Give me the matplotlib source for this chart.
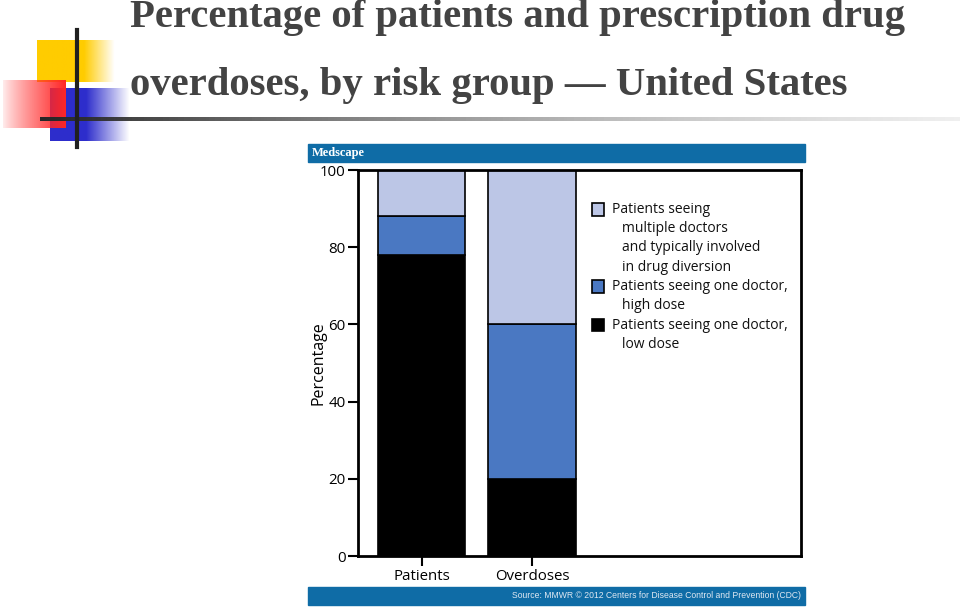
import numpy as np
import matplotlib.pyplot as plt
from matplotlib.patches import Rectangle

groups = ['Patients', 'Overdoses']
low_dose = [78, 20]
high_dose = [10, 40]
multiple_doctors = [12, 40]
legend_labels = [
    ['Patients seeing', 'multiple doctors', 'and typically involved', 'in drug diversion'],
    ['Patients seeing one doctor,', 'high dose'],
    ['Patients seeing one doctor,', 'low dose'],
]
colors = ['#bcc6e6', '#4a78c2', '#000000']
title_lines = ['Percentage of patients and prescription drug',
               'overdoses, by risk group \u2014 United States']

W, H = 960, 607
fig = plt.figure(figsize=(W / 100, H / 100), dpi=100)

# background decoration in pixel coords
bg = fig.add_axes([0, 0, 1, 1])
bg.set_xlim(0, W)
bg.set_ylim(H, 0)
bg.axis('off')


def grad_rect(x0, y0, x1, y1, rgb, fade_from=0.55):
    n = 100
    a = np.ones(n)
    k = int(n * fade_from)
    a[k:] = np.linspace(1, 0, n - k)
    img = np.zeros((1, n, 4))
    img[0, :, :3] = rgb
    img[0, :, 3] = a
    bg.imshow(img, extent=(x0, x1, y1, y0), aspect='auto', zorder=1)


grad_rect(37, 40, 115, 82, (1.0, 0.80, 0.0), 0.6)
grad_rect(50, 88, 130, 141, (0.18, 0.18, 0.80), 0.45)
# red block fades towards the left
n = 100
img = np.zeros((1, n, 4))
img[0, :, :3] = (1.0, 0.15, 0.15)
img[0, :, 3] = np.linspace(0.05, 1, n) ** 0.8
bg.imshow(img, extent=(3, 66, 128, 80), aspect='auto', zorder=2)

# lines
line = np.zeros((1, 300, 4))
line[0, :, :3] = np.linspace(0.15, 0.85, 300)[:, None]
line[0, :, 3] = np.linspace(1, 0.4, 300)
bg.imshow(line, extent=(40, 960, 121, 117), aspect='auto', zorder=3)
bg.plot([77, 77], [30, 147], color='#202020', lw=3, zorder=4)
bg.set_xlim(0, W)
bg.set_ylim(H, 0)

for i, t in enumerate(title_lines):
    bg.text(130, 17 + i * 68, t, fontsize=29.3, fontweight='bold',
            family='Liberation Serif', color='#434343', va='center', ha='left', zorder=5)

# header / footer bars
bg.add_patch(Rectangle((308, 144), 497, 18, color='#0f6ca6', zorder=2))
bg.text(312, 153, 'Medscape', fontsize=9, fontweight='bold', family='Liberation Serif',
        color='white', va='center', zorder=5)
bg.add_patch(Rectangle((308, 587), 497, 18, color='#0f6ca6', zorder=2))
bg.text(801, 596, 'Source: MMWR \u00a9 2012 Centers for Disease Control and Prevention (CDC)',
        fontsize=6.2, family='Liberation Sans', color='#dfe8f2', va='center', ha='right', zorder=5)

# chart
ax = fig.add_axes([358 / W, 1 - 556 / H, 443 / W, 386 / H])
x = np.arange(len(groups))
bw = 0.79
ax.bar(x, low_dose, bw, color=colors[2], edgecolor='black', lw=1.2)
ax.bar(x, high_dose, bw, bottom=low_dose, color=colors[1], edgecolor='black', lw=1.2)
ax.bar(x, multiple_doctors, bw, bottom=np.add(low_dose, high_dose),
       color=colors[0], edgecolor='black', lw=1.2)
ax.set_xlim(-0.575, 3.434)
ax.set_ylim(0, 100)
ax.set_yticks([0, 20, 40, 60, 80, 100])
ax.set_xticks(x)
ax.set_xticklabels(groups)
for s in ax.spines.values():
    s.set_linewidth(2)
ax.tick_params(axis='both', length=7, width=1.5, labelsize=10.8, pad=2)
for lab in ax.get_xticklabels() + ax.get_yticklabels():
    lab.set_family('Open Sans')
ax.set_ylabel('Percentage', fontsize=11.5, family='Open Sans', labelpad=-5)

# manual legend
row = 19.3 / 386 * 100
y = 89.8
for ci, lines in zip(colors, legend_labels):
    ax.add_patch(Rectangle((1.543, y - 1.6), 0.11, 3.2, facecolor=ci,
                           edgecolor='black', lw=1.2, zorder=5))
    for j, t in enumerate(lines):
        ax.text(1.724 + (0.09 if j else 0), y - j * row, t, fontsize=10,
                family='Open Sans', va='center', ha='left', color='#111111')
    y -= row * len(lines)

fig.savefig('out.png', dpi=100)
